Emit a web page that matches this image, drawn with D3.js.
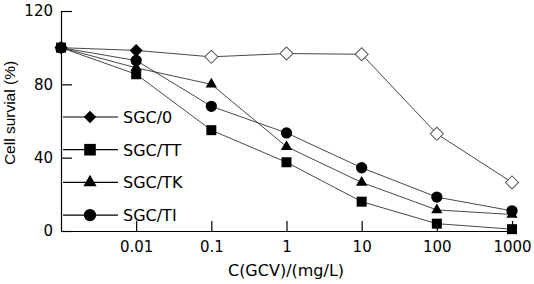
<!DOCTYPE html>
<html>
<head>
<meta charset="utf-8">
<script src="https://cdn.jsdelivr.net/npm/d3@7"></script>
<style>
  body { margin: 0; background: #fff; }
  svg { display: block; }
</style>
</head>
<body>
<div id="chart"></div>
<script>
// data
const doses = [0.001, 0.01, 0.1, 1, 10, 100, 1000];
const doseTicks = [0.01, 0.1, 1, 10, 100, 1000];
const yTicks = [0, 40, 80, 120];
const seriesNames = ["SGC/0", "SGC/TT", "SGC/TK", "SGC/TI"];
const sgc0 = [100, 98.5, 95, 96.8, 96.4, 53, 26.5];
const sgcTT = [100, 85.5, 55, 37.5, 16, 4, 1];
const sgcTK = [100, 89, 80, 46, 26.5, 11.5, 9];
const sgcTI = [100, 93, 68, 53.5, 34.5, 18.5, 11];
// SGC/0 markers are filled only at the first two doses
const sgc0Filled = [true, true, false, false, false, false, false];

const width = 534;
const height = 284;
const margin = {top: 11, left: 61, right: 22, bottom: 53};

const svg = d3.select("#chart")
  .append("svg")
    .attr("width", width)
    .attr("height", height);

const x = d3.scaleLog()
  .domain([0.001, 1000])
  .range([margin.left, width - margin.right]);

const y = d3.scaleLinear()
  .domain([0, 120])
  .range([height - margin.bottom, margin.top]);

const font = "'DejaVu Sans', Verdana, sans-serif";

// axes
const xAxis = svg.append("g")
  .attr("transform", `translate(0,${height - margin.bottom})`)
  .call(d3.axisBottom(x)
    .tickValues(doseTicks)
    .tickFormat(d => String(d))
    .tickSizeInner(-10)
    .tickSizeOuter(0)
    .tickPadding(10));

const yAxis = svg.append("g")
  .attr("transform", `translate(${margin.left},0)`)
  .call(d3.axisLeft(y)
    .tickValues(yTicks)
    .tickSizeInner(-11)
    .tickSizeOuter(0)
    .tickPadding(8));

[xAxis, yAxis].forEach(function(a) {
  a.selectAll("path, line").attr("stroke", "#000").attr("stroke-width", 1.2);
  a.selectAll("text")
    .attr("fill", "#000")
    .style("font-family", font)
    .style("font-size", "15px");
});

// axis titles
svg.append("text")
  .attr("x", 286)
  .attr("y", 276)
  .attr("text-anchor", "middle")
  .style("font-family", font)
  .style("font-size", "16px")
  .text("C(GCV)/(mg/L)");

svg.append("text")
  .attr("transform", "translate(15,113) rotate(-90)")
  .attr("text-anchor", "middle")
  .style("font-family", "'Liberation Sans', Arial, sans-serif")
  .style("font-size", "15.5px")
  .text("Cell survial (%)");

// series (diamond = square turned 45 degrees)
const series = [
  {name: seriesNames[0], values: sgc0, symbol: d3.symbolSquare, rot: 45, size: 85, legendSize: 78},
  {name: seriesNames[1], values: sgcTT, symbol: d3.symbolSquare, rot: 0, size: 100, legendSize: 135},
  {name: seriesNames[2], values: sgcTK, symbol: d3.symbolTriangle, rot: 0, size: 55, legendSize: 75},
  {name: seriesNames[3], values: sgcTI, symbol: d3.symbolCircle, rot: 0, size: 100, legendSize: 120}
];

const line = d3.line()
  .x((d, i) => x(doses[i]))
  .y(d => y(d));

series.forEach(function(s) {
  svg.append("path")
    .datum(s.values)
    .attr("d", line)
    .attr("fill", "none")
    .attr("stroke", "#333")
    .attr("stroke-width", 0.9);
});

series.forEach(function(s, si) {
  svg.append("g")
    .selectAll("path")
    .data(s.values)
    .join("path")
      .attr("transform", (d, i) => `translate(${x(doses[i])},${y(d)}) rotate(${s.rot})`)
      .attr("d", d3.symbol().type(s.symbol).size(s.size))
      .attr("fill", (d, i) => (si === 0 && !sgc0Filled[i]) ? "#fff" : "#000")
      .attr("stroke", (d, i) => (si === 0 && !sgc0Filled[i]) ? "#555" : "none")
      .attr("stroke-width", 1);
});

// legend
const legend = svg.append("g")
  .selectAll("g")
  .data(series)
  .join("g")
    .attr("transform", (d, i) => `translate(63,${117 + i * 32.7})`);

legend.append("line")
  .attr("x1", 0)
  .attr("x2", 55)
  .attr("stroke", "#000")
  .attr("stroke-width", 1.2);

legend.append("path")
  .attr("transform", d => `translate(27,0) rotate(${d.rot})`)
  .attr("d", d => d3.symbol().type(d.symbol).size(d.legendSize)())
  .attr("fill", "#000");

legend.append("text")
  .attr("x", 60)
  .attr("y", 6)
  .style("font-family", font)
  .style("font-size", "16px")
  .text(d => d.name);
</script>
</body>
</html>
